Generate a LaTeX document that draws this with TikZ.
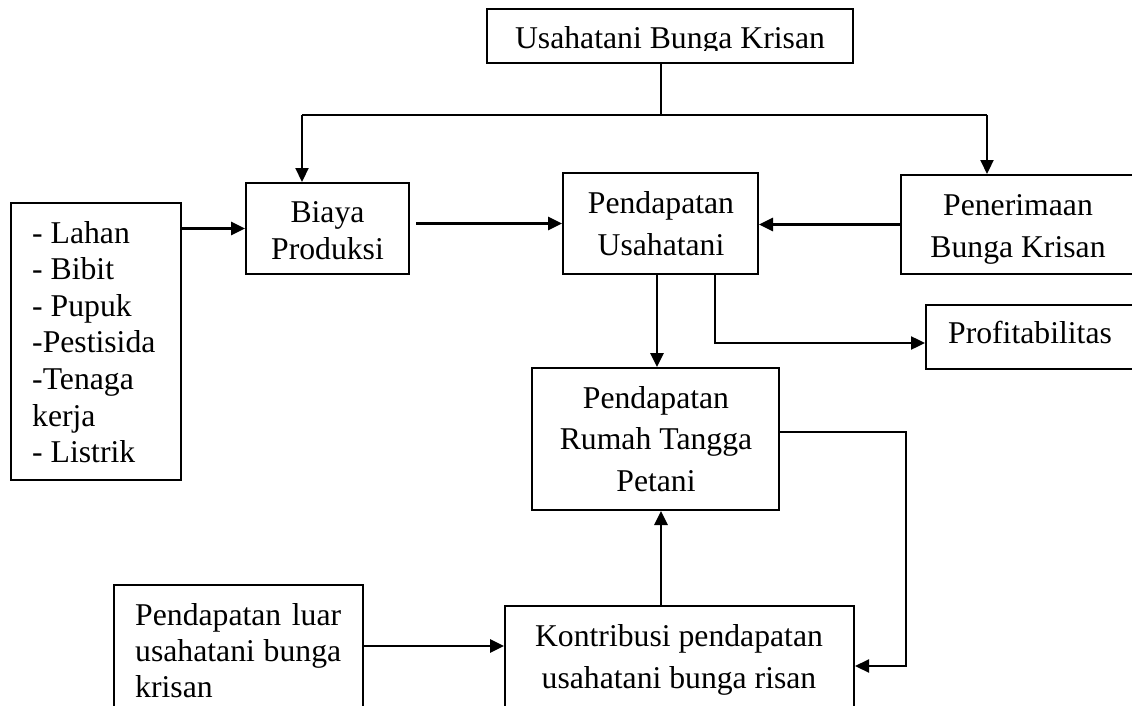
\documentclass[tikz,border=0pt]{standalone}
\usepackage{fontspec}
\setmainfont{Liberation Serif}
\usetikzlibrary{arrows.meta}
\begin{document}
\begin{tikzpicture}[x=1pt,y=-1pt,
  box/.style={draw,line width=2pt,inner sep=0pt,minimum width=#1},
  txt/.style={inner sep=0pt,align=center,font=\fontsize{31.7}{42}\selectfont},
  arr/.style={line width=2.8pt,-{Triangle[length=14pt,width=13pt]}},
  thin/.style={line width=1.8pt}]
\useasboundingbox (0,0) rectangle (1132,706);
\clip (0,0) rectangle (1132,706);
\fill[white] (0,0) rectangle (1132,706);
% boxes
\node[box=366pt,minimum height=54pt] (top) at (670,36) {};
\node[box=170pt,minimum height=277pt] (list) at (96,341.5) {};
\node[box=163pt,minimum height=91pt] (biaya) at (327.5,228.5) {};
\node[box=195pt,minimum height=101pt] (pend) at (660.5,223.5) {};
\node[box=239pt,minimum height=99pt] (pener) at (1020.5,224.5) {};
\node[box=214pt,minimum height=64pt] (profit) at (1033,337) {};
\node[box=247pt,minimum height=142pt] (rt) at (655.5,439) {};
\node[box=249pt,minimum height=135pt] (luar) at (238.5,652.5) {};
\node[box=349pt,minimum height=114pt] (kontr) at (679.5,663) {};
% texts (base anchor = baseline of the last line)
\begin{scope}
\clip (487,9) rectangle (853,51);
\node[txt,anchor=base] (ttop) at (670,49) {Usahatani Bunga Krisan};
\end{scope}
\node[txt,anchor=base west,align=left,font=\fontsize{31.7}{36.6}\selectfont] (tlist) at (32,462.6)
  {- Lahan\\- Bibit\\- Pupuk\\-Pestisida\\-Tenaga\\kerja\\- Listrik};
\node[txt,anchor=base,font=\fontsize{31.7}{37}\selectfont] (tbiaya) at (327.5,259) {Biaya\\Produksi};
\node[txt,anchor=base] (tpend) at (661,255) {Pendapatan\\Usahatani};
\node[txt,anchor=base] (tpener) at (1018,257) {Penerimaan\\Bunga Krisan};
\node[txt,anchor=base] (tprofit) at (1030,343) {Profitabilitas};
\node[txt,anchor=base,font=\fontsize{31.7}{41.5}\selectfont] (trt) at (656,491) {Pendapatan\\Rumah Tangga\\Petani};
\node[txt,anchor=base west,align=left,font=\fontsize{31.7}{36}\selectfont] (tluar) at (135,697)
  {\makebox[206pt][s]{Pendapatan luar}\\\makebox[206pt][s]{usahatani bunga}\\krisan};
\node[txt,anchor=base] (tkontr) at (679,688) {Kontribusi pendapatan\\usahatani bunga risan};
% connectors
\coordinate (split) at (661,115);
\coordinate (bl) at (302,115);
\coordinate (br) at (987,115);
\draw[thin] (top.south -| split) -- (split);
\draw[thin] (bl) -- (br);
\draw[arr,line width=2.2pt] (bl) -- (bl |- biaya.north);
\draw[arr,line width=2.2pt] (br) -- (br |- pener.north);
\draw[arr] (list.east |- biaya.west) -- (biaya.west);
\draw[arr] ([xshift=6pt]biaya.east |- pend.west) -- (pend.west);
\draw[arr] (pener.west) -- (pend.east |- pener.west);
\draw[arr] ([xshift=-3.5pt]pend.south) -- ([xshift=-3.5pt]pend.south |- rt.north);
\coordinate (pp) at (715,343);
\draw[arr,line width=2.4pt] (pend.south -| pp) -- (pp) -- (profit.west |- pp);
\coordinate (kx) at (661,560);
\draw[arr] (kontr.north -| kx) -- (rt.south -| kx);
\coordinate (r1) at (906,432);
\coordinate (r2) at (906,666);
\draw[arr,line width=2.2pt] (rt.east |- r1) -- (r1) -- (r2) -- (kontr.east |- r2);
\coordinate (lk) at (400,646);
\draw[arr] (luar.east |- lk) -- (kontr.west |- lk);
\end{tikzpicture}
\end{document}
